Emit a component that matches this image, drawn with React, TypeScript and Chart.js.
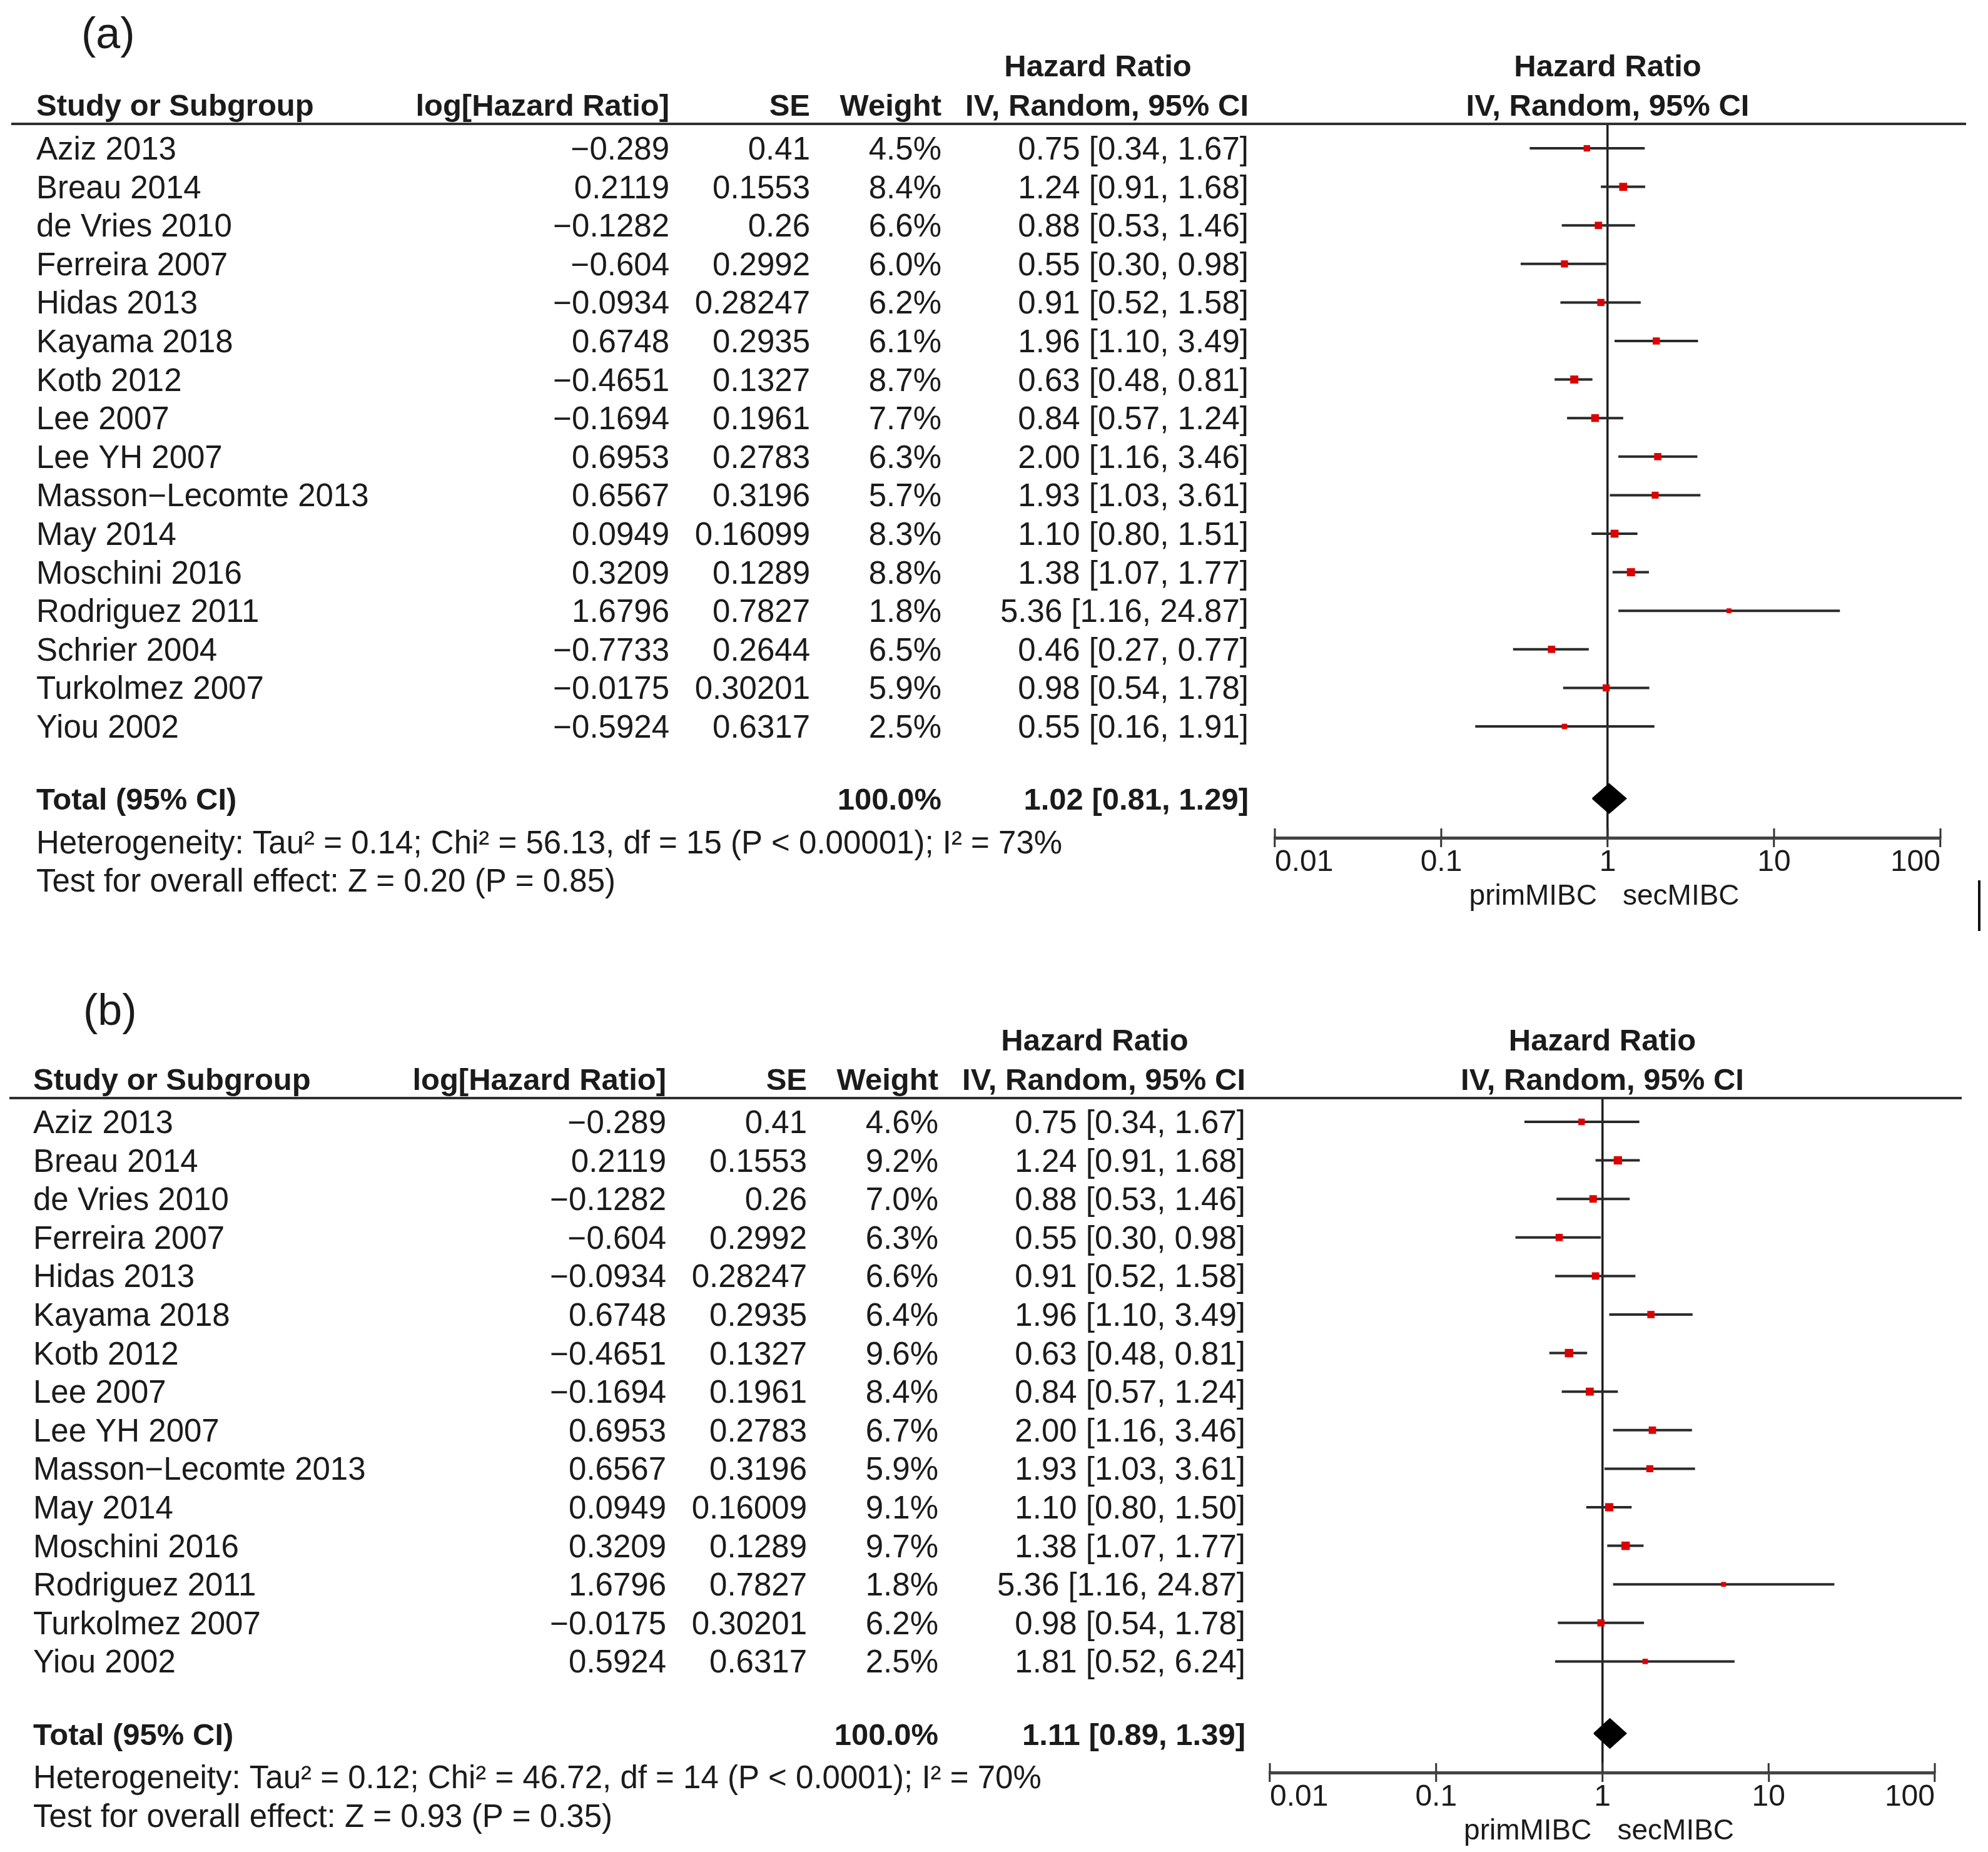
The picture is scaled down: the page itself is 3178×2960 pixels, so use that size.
import React, { useEffect, useRef } from "react";
import { Chart, registerables } from "chart.js";

Chart.register(...registerables);

// ---------------- DATA ----------------
const studiesA = [
  "Aziz 2013", "Breau 2014", "de Vries 2010", "Ferreira 2007", "Hidas 2013", "Kayama 2018",
  "Kotb 2012", "Lee 2007", "Lee YH 2007", "Masson−Lecomte 2013", "May 2014", "Moschini 2016",
  "Rodriguez 2011", "Schrier 2004", "Turkolmez 2007", "Yiou 2002",
];
const logHrA = [-0.289, 0.2119, -0.1282, -0.604, -0.0934, 0.6748, -0.4651, -0.1694, 0.6953, 0.6567, 0.0949, 0.3209, 1.6796, -0.7733, -0.0175, -0.5924];
const seA = [0.41, 0.1553, 0.26, 0.2992, 0.28247, 0.2935, 0.1327, 0.1961, 0.2783, 0.3196, 0.16099, 0.1289, 0.7827, 0.2644, 0.30201, 0.6317];
const weightA = [4.5, 8.4, 6.6, 6.0, 6.2, 6.1, 8.7, 7.7, 6.3, 5.7, 8.3, 8.8, 1.8, 6.5, 5.9, 2.5];
const hrA = [0.75, 1.24, 0.88, 0.55, 0.91, 1.96, 0.63, 0.84, 2.0, 1.93, 1.1, 1.38, 5.36, 0.46, 0.98, 0.55];
const loA = [0.34, 0.91, 0.53, 0.3, 0.52, 1.1, 0.48, 0.57, 1.16, 1.03, 0.8, 1.07, 1.16, 0.27, 0.54, 0.16];
const hiA = [1.67, 1.68, 1.46, 0.98, 1.58, 3.49, 0.81, 1.24, 3.46, 3.61, 1.51, 1.77, 24.87, 0.77, 1.78, 1.91];
const totalA = [1.02, 0.81, 1.29];
const totalWeightA = 100.0;
const heterogeneityA = "Heterogeneity: Tau² = 0.14; Chi² = 56.13, df = 15 (P < 0.00001); I² = 73%";
const overallA = "Test for overall effect: Z = 0.20 (P = 0.85)";

const studiesB = [
  "Aziz 2013", "Breau 2014", "de Vries 2010", "Ferreira 2007", "Hidas 2013", "Kayama 2018",
  "Kotb 2012", "Lee 2007", "Lee YH 2007", "Masson−Lecomte 2013", "May 2014", "Moschini 2016",
  "Rodriguez 2011", "Turkolmez 2007", "Yiou 2002",
];
const logHrB = [-0.289, 0.2119, -0.1282, -0.604, -0.0934, 0.6748, -0.4651, -0.1694, 0.6953, 0.6567, 0.0949, 0.3209, 1.6796, -0.0175, 0.5924];
const seB = [0.41, 0.1553, 0.26, 0.2992, 0.28247, 0.2935, 0.1327, 0.1961, 0.2783, 0.3196, 0.16009, 0.1289, 0.7827, 0.30201, 0.6317];
const weightB = [4.6, 9.2, 7.0, 6.3, 6.6, 6.4, 9.6, 8.4, 6.7, 5.9, 9.1, 9.7, 1.8, 6.2, 2.5];
const hrB = [0.75, 1.24, 0.88, 0.55, 0.91, 1.96, 0.63, 0.84, 2.0, 1.93, 1.1, 1.38, 5.36, 0.98, 1.81];
const loB = [0.34, 0.91, 0.53, 0.3, 0.52, 1.1, 0.48, 0.57, 1.16, 1.03, 0.8, 1.07, 1.16, 0.54, 0.52];
const hiB = [1.67, 1.68, 1.46, 0.98, 1.58, 3.49, 0.81, 1.24, 3.46, 3.61, 1.5, 1.77, 24.87, 1.78, 6.24];
const totalB = [1.11, 0.89, 1.39];
const totalWeightB = 100.0;
const heterogeneityB = "Heterogeneity: Tau² = 0.12; Chi² = 46.72, df = 14 (P < 0.0001); I² = 70%";
const overallB = "Test for overall effect: Z = 0.93 (P = 0.35)";

const tickValues = [0.01, 0.1, 1, 10, 100];
const tickLabels = ["0.01", "0.1", "1", "10", "100"];
const favoursLeft = "primMIBC";
const favoursRight = "secMIBC";

const headStudy = "Study or Subgroup";
const headLog = "log[Hazard Ratio]";
const headSE = "SE";
const headWeight = "Weight";
const headHR = "Hazard Ratio";
const headMethod = "IV, Random, 95% CI";
const totalLabel = "Total (95% CI)";

// ---------------- STYLE / LAYOUT ----------------
const W = 3178;
const ROW_H = 61.6;
const FAMILY = '"Liberation Sans", Arial, sans-serif';
const TEXT = "#1b1b1b";
const RED = "#dd0000";

type PanelCfg = {
  tag: string;
  studies: string[];
  logHr: number[];
  se: number[];
  weight: number[];
  hr: number[];
  lo: number[];
  hi: number[];
  total: number[];
  totalWeight: number;
  heterogeneity: string;
  overall: string;
  top: number;
  height: number;
  ruleY: number;
  firstRowY: number;
  axisY: number;
  axisLeft: number;
  axisRight: number;
  dx: number;
  tagX: number;
  tagBaseline: number;
  ruleLeft: number;
  ruleRight: number;
  strayMark: boolean;
};

const panelA: PanelCfg = {
  tag: "(a)", studies: studiesA, logHr: logHrA, se: seA, weight: weightA, hr: hrA, lo: loA, hi: hiA,
  total: totalA, totalWeight: totalWeightA, heterogeneity: heterogeneityA, overall: overallA,
  top: 0, height: 1500, ruleY: 198, firstRowY: 237, axisY: 1339, axisLeft: 2038, axisRight: 3102,
  dx: 0, tagX: 130, tagBaseline: 77, ruleLeft: 18, ruleRight: 3143, strayMark: true,
};
const panelB: PanelCfg = {
  tag: "(b)", studies: studiesB, logHr: logHrB, se: seB, weight: weightB, hr: hrB, lo: loB, hi: hiB,
  total: totalB, totalWeight: totalWeightB, heterogeneity: heterogeneityB, overall: overallB,
  top: 1500, height: 1460, ruleY: 1755, firstRowY: 1793, axisY: 2833, axisLeft: 2030, axisRight: 3093,
  dx: -5, tagX: 133, tagBaseline: 1638, ruleLeft: 15, ruleRight: 3136, strayMark: false,
};

const fmtNum = (v: number) => (v < 0 ? "−" : "") + String(Math.abs(v));
const fmtW = (w: number) => w.toFixed(1) + "%";
const fmtCI = (h: number, l: number, u: number) => `${h.toFixed(2)} [${l.toFixed(2)}, ${u.toFixed(2)}]`;

function makeConfig(p: PanelCfg): any {
  const n = p.studies.length;
  const totalRow = n + 0.87;
  const yMin = (p.ruleY - p.firstRowY) / ROW_H;
  const yMax = (p.axisY - p.firstRowY) / ROW_H;
  const axisH = p.height - (p.axisY - p.top);

  const ciSets = p.studies.map((s, i) => ({
    type: "line",
    label: s,
    data: [
      { x: p.lo[i], y: i },
      { x: p.hi[i], y: i },
    ],
    borderColor: "#2a2a2a",
    borderWidth: 4,
    pointRadius: 0,
    fill: false,
    tension: 0,
    order: 2,
  }));

  const markers = {
    type: "scatter",
    label: "Hazard Ratio",
    data: p.hr.map((h, i) => ({ x: h, y: i })),
    pointStyle: "rect",
    pointRadius: (c: any) => (3.2 * Math.sqrt(p.weight[c.dataIndex] ?? 1) + 3.5) / 1.414,
    backgroundColor: RED,
    borderWidth: 0,
    order: 0,
  };

  const [th, tl, tu] = p.total;
  const diamond = {
    type: "line",
    label: "Total",
    data: [
      { x: tl, y: totalRow },
      { x: th, y: totalRow - 0.38 },
      { x: tu, y: totalRow },
      { x: th, y: totalRow + 0.38 },
      { x: tl, y: totalRow },
    ],
    fill: "shape",
    backgroundColor: "#000",
    borderColor: "#000",
    borderWidth: 2,
    pointRadius: 0,
    tension: 0,
    order: 1,
  };

  const tablePlugin = {
    id: "forestTable",
    afterDraw(chart: any) {
      const ctx: CanvasRenderingContext2D = chart.ctx;
      const ys = chart.scales.y;
      const xs = chart.scales.x;
      const ca = chart.chartArea;
      const off = p.top;
      const half = 18;
      const regular = `51px ${FAMILY}`;
      const bold = `bold 49px ${FAMILY}`;
      const cx = (v: number) => v + p.dx;
      const colName = cx(58), colLog = cx(1070), colSE = cx(1295), colW = cx(1505), colCI = cx(1996), colHead = cx(1755);

      ctx.save();
      ctx.textBaseline = "alphabetic";
      ctx.fillStyle = TEXT;

      // panel tag
      ctx.font = `70px ${FAMILY}`;
      ctx.textAlign = "left";
      ctx.fillText(p.tag, p.tagX, p.tagBaseline - off);

      // header rule
      ctx.fillStyle = "#303030";
      ctx.fillRect(p.ruleLeft, ca.top - 2, p.ruleRight - p.ruleLeft, 4);
      ctx.fillStyle = TEXT;

      // headers
      const h1 = p.ruleY - 76 - off;
      const h2 = p.ruleY - 13 - off;
      ctx.font = bold;
      ctx.textAlign = "left";
      ctx.fillText(headStudy, colName, h2);
      ctx.textAlign = "right";
      ctx.fillText(headLog, colLog, h2);
      ctx.fillText(headSE, colSE, h2);
      ctx.fillText(headWeight, colW, h2);
      ctx.fillText(headMethod, colCI, h2);
      ctx.textAlign = "center";
      ctx.fillText(headHR, colHead, h1);
      const mid = (ca.left + ca.right) / 2;
      ctx.fillText(headHR, mid, h1);
      ctx.fillText(headMethod, mid, h2);

      // study rows
      ctx.font = regular;
      p.studies.forEach((s, i) => {
        const yb = ys.getPixelForValue(i) + half;
        ctx.textAlign = "left";
        ctx.fillText(s, colName, yb);
        ctx.textAlign = "right";
        ctx.fillText(fmtNum(p.logHr[i]), colLog, yb);
        ctx.fillText(fmtNum(p.se[i]), colSE, yb);
        ctx.fillText(fmtW(p.weight[i]), colW, yb);
        ctx.fillText(fmtCI(p.hr[i], p.lo[i], p.hi[i]), colCI, yb);
      });

      // total row
      const ty = ys.getPixelForValue(totalRow) + half;
      ctx.font = bold;
      ctx.textAlign = "left";
      ctx.fillText(totalLabel, colName, ty);
      ctx.textAlign = "right";
      ctx.fillText(fmtW(p.totalWeight), colW, ty);
      ctx.fillText(fmtCI(th, tl, tu), colCI, ty);

      // heterogeneity & overall effect
      ctx.font = regular;
      ctx.textAlign = "left";
      ctx.fillText(p.heterogeneity, colName, ys.getPixelForValue(n + 2) + half);
      ctx.fillText(p.overall, colName, ys.getPixelForValue(n + 3) + half);

      // upper halves of the axis tick marks
      ctx.strokeStyle = "#333";
      ctx.lineWidth = 3;
      tickValues.forEach((v) => {
        const px = xs.getPixelForValue(v);
        ctx.beginPath();
        ctx.moveTo(px, ca.bottom - 15);
        ctx.lineTo(px, ca.bottom);
        ctx.stroke();
      });

      // favours labels
      const one = xs.getPixelForValue(1);
      ctx.font = `46px ${FAMILY}`;
      ctx.textAlign = "right";
      ctx.fillText(favoursLeft, one - 17, ca.bottom + 107);
      ctx.textAlign = "left";
      ctx.fillText(favoursRight, one + 24, ca.bottom + 107);

      if (p.strayMark) {
        ctx.fillStyle = "#111";
        ctx.fillRect(3162, 1407 - off, 4, 81);
      }
      ctx.restore();
    },
  };

  return {
    type: "scatter",
    data: { datasets: [...ciSets, markers, diamond] },
    plugins: [tablePlugin],
    options: {
      animation: false,
      responsive: false,
      devicePixelRatio: 1,
      events: [],
      layout: { padding: { left: p.axisLeft, right: W - p.axisRight, top: p.ruleY - p.top, bottom: 0 } },
      plugins: { legend: { display: false }, tooltip: { enabled: false }, title: { display: false } },
      scales: {
        x: {
          type: "logarithmic",
          position: "bottom",
          min: tickValues[0],
          max: tickValues[tickValues.length - 1],
          afterBuildTicks: (s: any) => {
            s.ticks = tickValues.map((v) => ({ value: v }));
          },
          afterFit: (s: any) => {
            s.height = axisH;
          },
          ticks: {
            callback: (_v: any, i: number) => tickLabels[i],
            align: "inner",
            autoSkip: false,
            maxRotation: 0,
            padding: -4,
            color: TEXT,
            font: { family: FAMILY, size: 48 },
          },
          grid: {
            drawOnChartArea: true,
            drawTicks: true,
            tickLength: 15,
            color: (c: any) => (c.tick && c.tick.value === 1 ? "#1e1e1e" : "rgba(0,0,0,0)"),
            lineWidth: 3.5,
            tickColor: "#333",
            tickWidth: 3,
          },
          border: { display: true, color: "#444", width: 5 },
        },
        y: { type: "linear", display: false, reverse: true, min: yMin, max: yMax },
      },
    },
  };
}

function ForestPanel({ cfg }: { cfg: PanelCfg }) {
  const ref = useRef<HTMLCanvasElement | null>(null);
  useEffect(() => {
    if (!ref.current) return;
    const chart = new Chart(ref.current, makeConfig(cfg));
    return () => chart.destroy();
  }, [cfg]);
  return (
    <canvas
      ref={ref}
      width={W}
      height={cfg.height}
      style={{ position: "absolute", left: 0, top: cfg.top, width: W, height: cfg.height, display: "block" }}
    />
  );
}

export default function App() {
  return (
    <div style={{ position: "absolute", left: 0, top: 0, width: W, height: 2960, background: "#fff", overflow: "hidden" }}>
      <ForestPanel cfg={panelA} />
      <ForestPanel cfg={panelB} />
    </div>
  );
}
